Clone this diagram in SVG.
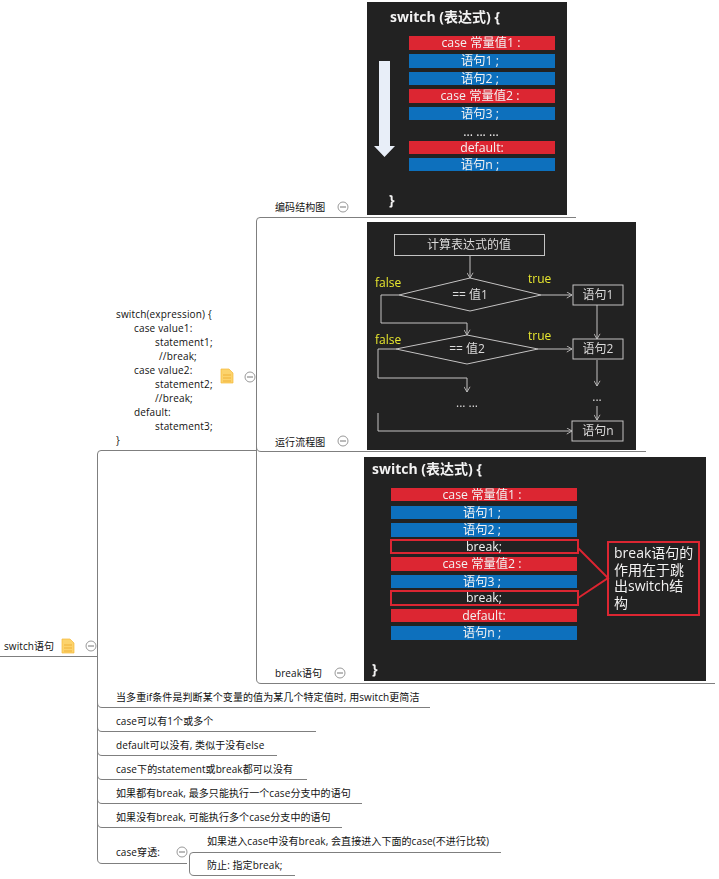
<svg xmlns="http://www.w3.org/2000/svg" width="719" height="879" viewBox="0 0 719 879">
<style>
text{font-family:"Open Sans","Noto Sans","Noto Sans CJK SC",sans-serif}
.t{font-size:10px;fill:#111;letter-spacing:.08px}
.s{font-size:10px;fill:#111;letter-spacing:.16px}
.c{fill:none;stroke:#7f7f7f;stroke-width:1}
.bg{fill:#222020}
.red{fill:#dc2530}
.blue{fill:#1070bd}
.bt{font-size:12.3px;fill:#f2f2f2;text-anchor:middle}
.h{font-size:14px;font-weight:700;fill:#f2f2f2}
.fl{fill:none;stroke:#c4c4c4;stroke-width:1}
.ft{font-size:12px;fill:#dcdcdc;text-anchor:middle}
.y{font-size:12px;fill:#e8e830}
.rb{fill:none;stroke:#dc2530;stroke-width:2}
.tog{fill:#fff;stroke:#999;stroke-width:1}
.togm{stroke:#777;stroke-width:1}
.doc{fill:#fcd36c;stroke:#f5b93a;stroke-width:.7}
.docl{stroke:#eda92b;stroke-width:.8}
.bx{font-size:14px;fill:#f2f2f2}
</style>
<defs>
<filter id="soft" x="-2%" y="-2%" width="104%" height="104%"><feGaussianBlur stdDeviation="0.35"/></filter>
<marker id="ah" viewBox="0 0 8 8" refX="7" refY="4" markerWidth="7" markerHeight="7" orient="auto" markerUnits="userSpaceOnUse"><path d="M1 0.5L7 4L1 7.5" fill="none" stroke="#c4c4c4" stroke-width="1"/></marker>
<g id="tog"><circle r="5" class="tog"/><line x1="-3" x2="3" class="togm"/></g>
<g id="doc"><path class="doc" d="M-6 -7H2L6 -3V7H-6Z"/><path class="docl" d="M-4 -1H4M-4 2H4M-4 5H4"/></g>
</defs>

<g id="connectors">
<path class="c" d="M0 656.500H97.500M97.500 454V859Q97.500 863.500 102 863.500H187"/>
<path class="c" d="M97.500 454Q97.500 450.500 101 450.500H256.500"/>
<path class="c" d="M256.500 221Q256.500 217.500 260 217.500H576M256.500 221V679Q256.500 683.500 261 683.500H715M256.500 447Q256.500 451.500 261 451.500H646"/>
<path class="c" d="M97.500 703Q97.500 707.500 102 707.500H430M97.500 727Q97.500 731.500 102 731.500H316M97.500 751Q97.500 755.500 102 755.500H277M97.500 775Q97.500 779.500 102 779.500H307M97.500 799Q97.500 803.500 102 803.500H362M97.500 823Q97.500 827.500 102 827.500H342"/>
<path class="c" d="M189.500 856Q189.500 852.500 193 852.500H501M189.500 856V871Q189.500 875.500 194 875.500H295"/>
</g>

<g id="node-root"><text class="t" x="4" y="650">switch语句</text><use href="#doc" x="68" y="646"/><use href="#tog" x="91" y="646"/></g>
<g id="node-syntax">
<text class="s" x="116" y="318">switch(expression) {</text>
<text class="s" x="134" y="332">case value1:</text>
<text class="s" x="155" y="346">statement1;</text>
<text class="s" x="159" y="360">//break;</text>
<text class="s" x="134" y="374">case value2:</text>
<text class="s" x="155" y="388">statement2;</text>
<text class="s" x="155" y="402">//break;</text>
<text class="s" x="134" y="416">default:</text>
<text class="s" x="155" y="430">statement3;</text>
<text class="s" x="116" y="444">}</text>
<use href="#doc" x="227" y="376"/><use href="#tog" x="250" y="377"/>
</g>
<g id="node-code"><text class="t" x="275" y="211">编码结构图</text><use href="#tog" x="343" y="207"/></g>
<g id="node-flow"><text class="t" x="275" y="446">运行流程图</text><use href="#tog" x="343" y="441"/></g>
<g id="node-break"><text class="t" x="275" y="677">break语句</text><use href="#tog" x="340" y="673"/></g>

<g id="image-code" filter="url(#soft)">
<rect class="bg" x="367" y="2" width="200" height="213"/>
<text class="h" x="390" y="22">switch (表达式) {</text>
<rect class="red" x="409" y="36" width="146" height="14"/><text class="bt" x="481" y="47">case 常量值1 :</text>
<rect class="blue" x="409" y="54" width="146" height="14"/><text class="bt" x="480" y="65">语句1 ;</text>
<rect class="blue" x="409" y="72" width="146" height="13"/><text class="bt" x="480" y="83">语句2 ;</text>
<rect class="red" x="409" y="89" width="146" height="14"/><text class="bt" x="480" y="100">case 常量值2 :</text>
<rect class="blue" x="409" y="107" width="146" height="13"/><text class="bt" x="480" y="118">语句3 ;</text>
<text class="bt" x="481" y="136">... ... ...</text>
<rect class="red" x="409" y="141" width="146" height="13"/><text class="bt" x="482" y="152">default:</text>
<rect class="blue" x="409" y="158" width="146" height="13"/><text class="bt" x="480" y="169">语句n ;</text>
<text class="h" x="389" y="205">}</text>
<path d="M379 61H390V146H395L384.500 157L374 146H379Z" fill="#e8eef8"/>
</g>

<g id="image-flow" filter="url(#soft)">
<rect class="bg" x="367" y="222" width="269" height="228"/>
<rect class="fl" x="394.500" y="234.500" width="150" height="21"/><text class="ft" x="469" y="249">计算表达式的值</text>
<path class="fl" marker-end="url(#ah)" d="M470 256V278"/>
<path class="fl" d="M399 295L470 278L541 295L470 311Z"/><text class="ft" x="470" y="299">== 值1</text>
<text class="y" x="375" y="287">false</text><text class="y" x="528" y="283">true</text>
<path class="fl" marker-end="url(#ah)" d="M541 295H572"/>
<rect class="fl" x="573" y="285" width="50" height="20"/><text class="ft" x="598" y="299">语句1</text>
<path class="fl" marker-end="url(#ah)" d="M597 305V339"/>
<path class="fl" marker-end="url(#ah)" d="M399 295H381V323H467V335"/>
<path class="fl" d="M396 349L467 335L538 349L467 364Z"/><text class="ft" x="467" y="353">== 值2</text>
<text class="y" x="375" y="344">false</text><text class="y" x="528" y="340">true</text>
<path class="fl" marker-end="url(#ah)" d="M538 349H572"/>
<rect class="fl" x="573" y="339" width="50" height="20"/><text class="ft" x="598" y="353">语句2</text>
<path class="fl" marker-end="url(#ah)" d="M597 360V386"/>
<path class="fl" marker-end="url(#ah)" d="M396 349H378V378H467V392"/>
<text class="ft" x="467" y="407">... ...</text>
<text class="ft" x="597" y="401">...</text>
<path class="fl" marker-end="url(#ah)" d="M597 406V420"/>
<path class="fl" marker-end="url(#ah)" d="M378 413V431H572"/>
<rect class="fl" x="572" y="421" width="51" height="20"/><text class="ft" x="598" y="435">语句n</text>
</g>

<g id="image-break" filter="url(#soft)">
<rect class="bg" x="364" y="457" width="342" height="224"/>
<text class="h" x="372" y="474">switch (表达式) {</text>
<rect class="red" x="391" y="488" width="186" height="13"/><text class="bt" x="482" y="499">case 常量值1 :</text>
<rect class="blue" x="391" y="506" width="186" height="13"/><text class="bt" x="482" y="517">语句1 ;</text>
<rect class="blue" x="391" y="523" width="186" height="14"/><text class="bt" x="482" y="534">语句2 ;</text>
<rect class="rb" x="391" y="540" width="187" height="13"/><text class="bt" x="484" y="551">break;</text>
<rect class="red" x="391" y="557" width="186" height="14"/><text class="bt" x="482" y="568">case 常量值2 :</text>
<rect class="blue" x="391" y="575" width="186" height="13"/><text class="bt" x="482" y="586">语句3 ;</text>
<rect class="rb" x="391" y="591" width="187" height="14"/><text class="bt" x="484" y="602">break;</text>
<rect class="red" x="391" y="609" width="186" height="13"/><text class="bt" x="484" y="620">default:</text>
<rect class="blue" x="391" y="626" width="186" height="14"/><text class="bt" x="482" y="637">语句n ;</text>
<text class="h" x="372" y="674">}</text>
<path class="rb" d="M578 548L608 578L578 598"/>
<rect class="rb" x="608" y="542" width="91" height="73"/>
<text class="bx"><tspan x="614" y="558">break语句的</tspan><tspan x="614" y="575">作用在于跳</tspan><tspan x="614" y="591">出switch结</tspan><tspan x="614" y="608">构</tspan></text>
</g>

<g id="node-n1"><text class="t" x="116" y="701">当多重if条件是判断某个变量的值为某几个特定值时, 用switch更简洁</text></g>
<g id="node-n2"><text class="t" x="116" y="725">case可以有1个或多个</text></g>
<g id="node-n3"><text class="t" x="116" y="749">default可以没有, 类似于没有else</text></g>
<g id="node-n4"><text class="t" x="116" y="773">case下的statement或break都可以没有</text></g>
<g id="node-n5"><text class="t" x="116" y="797">如果都有break, 最多只能执行一个case分支中的语句</text></g>
<g id="node-n6"><text class="t" x="116" y="821">如果没有break, 可能执行多个case分支中的语句</text></g>
<g id="node-n7"><text class="t" x="116" y="856">case穿透:</text><use href="#tog" x="182" y="852"/></g>
<g id="node-n8"><text class="t" x="207" y="845">如果进入case中没有break, 会直接进入下面的case(不进行比较)</text></g>
<g id="node-n9"><text class="t" x="207" y="869">防止: 指定break;</text></g>
</svg>
